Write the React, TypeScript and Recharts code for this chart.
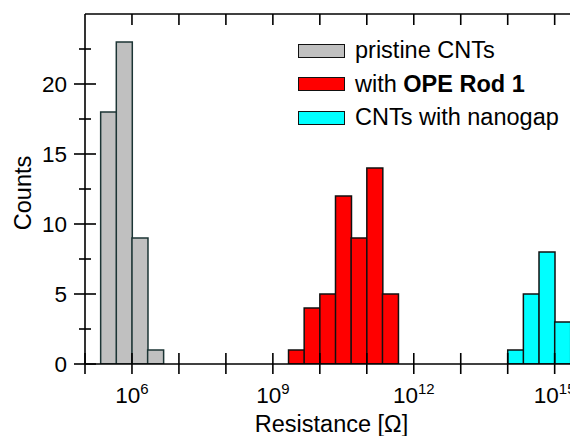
import { ComposedChart, Bar, Line, XAxis, YAxis, Legend } from 'recharts'

// bin centres are log10(R); bins are a third of a decade wide
const pristineBins = [5.5, 5.833, 6.167, 6.5]
const pristineCounts = [18, 23, 9, 1]
const opeBins = [9.5, 9.833, 10.167, 10.5, 10.833, 11.167, 11.5]
const opeCounts = [1, 4, 5, 12, 9, 14, 5]
const nanogapBins = [14.167, 14.5, 14.833, 15.167]
const nanogapCounts = [1, 5, 8, 3]

const decadeTicks = [5, 6, 7, 8, 9, 10, 11, 12, 13, 14, 15]
const topTicks = [6, 7, 8, 9, 10, 11, 12, 13, 14, 15]
const labelledDecades = [6, 9, 12, 15]
const countTicks = [0, 2.5, 5, 7.5, 10, 12.5, 15, 17.5, 20, 22.5]
const countLabels = [0, 5, 10, 15, 20]
const rightTicks = [5, 10, 15, 20]

const series = [
  { key: 'pristine', name: 'pristine CNTs', fill: '#c0c0c0', stroke: '#1c3535' },
  { key: 'ope', name: 'with OPE Rod 1', fill: '#ff0000', stroke: '#111111' },
  { key: 'nanogap', name: 'CNTs with nanogap', fill: '#00ffff', stroke: '#111111' },
]

const data = [
  ...pristineBins.map((logR, i) => ({ logR, pristine: pristineCounts[i], ope: 0, nanogap: 0 })),
  ...opeBins.map((logR, i) => ({ logR, pristine: 0, ope: opeCounts[i], nanogap: 0 })),
  ...nanogapBins.map((logR, i) => ({ logR, pristine: 0, ope: 0, nanogap: nanogapCounts[i] })),
]

const axisColor = '#000'
const lw = 1.6

function BottomTick(props: any) {
  const { x, y, payload } = props
  const v = payload.value
  return (
    <g>
      <line x1={x} x2={x} y1={y - 11} y2={y + 10} stroke={axisColor} strokeWidth={lw} />
      {labelledDecades.includes(v) && (
        <text x={x} y={y + 39} textAnchor="middle" fontSize={22.5} fill="#000">
          <tspan>10</tspan>
          <tspan dy={-9} fontSize={15}>{v}</tspan>
        </text>
      )}
    </g>
  )
}

function TopTick(props: any) {
  const { x, y } = props
  return <line x1={x} x2={x} y1={y} y2={y + 11} stroke={axisColor} strokeWidth={lw} />
}

function LeftTick(props: any) {
  const { x, y, payload } = props
  const v = payload.value
  const major = countLabels.includes(v)
  const len = major ? 11 : 6
  return (
    <g>
      <line x1={x - len} x2={x + len} y1={y} y2={y} stroke={axisColor} strokeWidth={lw} />
      {major && (
        <text x={x - 18} y={y} dy="0.36em" textAnchor="end" fontSize={22.5} fill="#000">
          {v}
        </text>
      )}
    </g>
  )
}

function RightTick(props: any) {
  const { x, y } = props
  return <line x1={x - 11} x2={x + 11} y1={y} y2={y} stroke={axisColor} strokeWidth={lw} />
}

function LegendBox() {
  return (
    <div style={{ fontSize: 23.5, color: '#000' }}>
      {series.map(s => (
        <div key={s.key} style={{ display: 'flex', alignItems: 'center', height: 33.5, whiteSpace: 'nowrap' }}>
          <span
            style={{
              display: 'inline-block',
              width: 45,
              height: 12,
              background: s.fill,
              border: '1.5px solid #111',
              marginRight: 10,
            }}
          />
          {s.key === 'ope' ? (
            <span>
              with <b>OPE Rod 1</b>
            </span>
          ) : (
            <span>{s.name}</span>
          )}
        </div>
      ))}
    </div>
  )
}

export default function App() {
  return (
    <div style={{ width: 570, height: 428, overflow: 'hidden', fontFamily: '"Liberation Sans", Arial, sans-serif' }}>
      <ComposedChart
        width={582}
        height={428}
        data={data}
        margin={{ top: 5, right: 1.5, left: 0, bottom: 0 }}
        barCategoryGap={0}
        barGap={0}
      >
        <XAxis
          xAxisId="bottom"
          dataKey="logR"
          type="number"
          domain={[5, 15.699]}
          allowDataOverflow
          ticks={decadeTicks}
          interval={0}
          height={72}
          tickSize={0}
          tickMargin={0}
          tickLine={false}
          axisLine={{ stroke: axisColor, strokeWidth: lw }}
          tick={<BottomTick />}
          label={{
            content: () => (
              <text x={323.5} y={424} textAnchor="middle" fontSize={23.5} fill="#000">
                Resistance [Ω]
              </text>
            ),
          }}
        />
        <XAxis
          xAxisId="top"
          orientation="top"
          dataKey="logR"
          type="number"
          domain={[5, 15.699]}
          allowDataOverflow
          ticks={topTicks}
          interval={0}
          height={1}
          tickSize={0}
          tickMargin={0}
          tickLine={false}
          axisLine={{ stroke: axisColor, strokeWidth: lw }}
          tick={<TopTick />}
        />
        <YAxis
          yAxisId="left"
          type="number"
          domain={[0, 25]}
          allowDataOverflow
          ticks={countTicks}
          interval={0}
          width={77}
          tickSize={0}
          tickMargin={0}
          tickLine={false}
          axisLine={{ stroke: axisColor, strokeWidth: lw }}
          tick={<LeftTick />}
          label={{
            content: () => (
              <text x={15} y={185} transform="rotate(-90 15 185)" textAnchor="middle" dy="0.36em" fontSize={23.5} fill="#000">
                Counts
              </text>
            ),
          }}
        />
        <YAxis
          yAxisId="right"
          orientation="right"
          type="number"
          domain={[0, 25]}
          allowDataOverflow
          ticks={rightTicks}
          interval={0}
          width={1}
          tickSize={0}
          tickMargin={0}
          tickLine={false}
          axisLine={{ stroke: axisColor, strokeWidth: lw }}
          tick={<RightTick />}
        />
        {series.map(s => (
          <Bar
            key={s.key}
            dataKey={s.key}
            name={s.name}
            stackId="h"
            xAxisId="bottom"
            yAxisId="left"
            fill={s.fill}
            stroke={s.stroke}
            strokeWidth={1.5}
            isAnimationActive={false}
          />
        ))}
        {/* invisible series so the top and right frame axes get drawn */}
        <Line
          dataKey="pristine"
          xAxisId="top"
          yAxisId="right"
          stroke="none"
          dot={false}
          activeDot={false}
          legendType="none"
          isAnimationActive={false}
        />
        <Legend
          layout="vertical"
          align="center"
          verticalAlign="middle"
          wrapperStyle={{ left: 290, top: 26, width: 'auto', height: 'auto' }}
          content={<LegendBox />}
        />
      </ComposedChart>
    </div>
  )
}
